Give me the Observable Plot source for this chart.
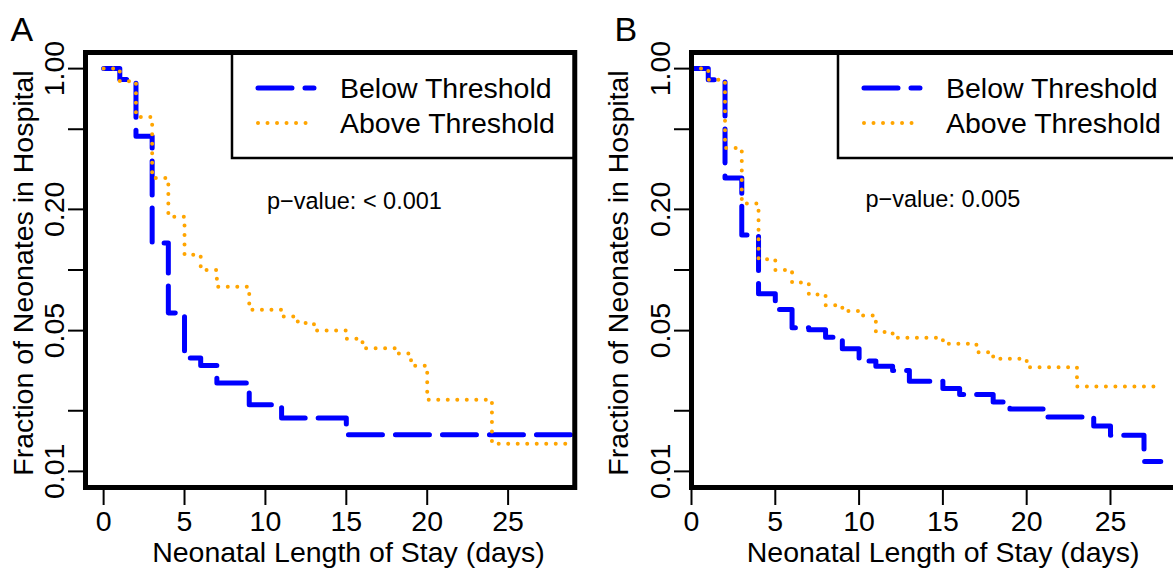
<!DOCTYPE html>
<html><head><meta charset="utf-8">
<script src="https://cdn.jsdelivr.net/npm/d3@7"></script>
<script src="https://cdn.jsdelivr.net/npm/@observablehq/plot@0.6"></script>
<style>
html,body{margin:0;padding:0;background:#fff;width:1173px;height:572px;overflow:hidden;}
#wrap{position:relative;width:1173px;height:572px;overflow:hidden;background:#fff;}
.panel{position:absolute;top:0;width:620px;height:572px;}
.panel svg{max-width:none !important;height:572px !important;}
</style></head>
<body><div id="wrap"><div class="panel" id="pa" style="left:0px"></div><div class="panel" id="pb" style="left:590px"></div></div>
<script>
// ---- shared labels / ticks ----
const xTicks = [0, 5, 10, 15, 20, 25];
const yTicks = [1, 0.5, 0.2, 0.1, 0.05, 0.02, 0.01];
const yLabelTicks = [1, 0.2, 0.05, 0.01];
const yTickLabels = ["1.00", "0.20", "0.05", "0.01"];
const seriesNames = ["Below Threshold", "Above Threshold"];
const xTitle = "Neonatal Length of Stay (days)";
const yTitle = "Fraction of Neonates in Hospital";

// ---- Panel A ----
const daysA_below = [0, 1, 2, 3, 4, 5, 6, 7, 9, 11, 15, 29];
const survA_below = [1, 0.882, 0.461, 0.136, 0.0612, 0.0366, 0.0336, 0.0275, 0.0214, 0.0184, 0.0152, 0.0152];
const daysA_above = [0, 1, 2, 3, 4, 5, 6, 7, 9, 11, 12, 13, 15, 16, 18, 19, 20, 24, 29];
const survA_above = [1, 0.865, 0.575, 0.286, 0.184, 0.119, 0.100, 0.0825, 0.0635, 0.0588, 0.0545, 0.0500, 0.0455, 0.0409, 0.0385, 0.0335, 0.0227, 0.0137, 0.0137];
const pTextA = "p\u2212value: < 0.001";

// ---- Panel B ----
const daysB_below = [0, 1, 2, 3, 4, 5, 6, 7, 8, 9, 10, 11, 12, 13, 15, 16, 18, 19, 21, 24, 25, 27, 28];
const survB_below = [1, 0.88, 0.286, 0.149, 0.0763, 0.0636, 0.0517, 0.0505, 0.0464, 0.0406, 0.0353, 0.0333, 0.0317, 0.0280, 0.0258, 0.0241, 0.0221, 0.0204, 0.0186, 0.0168, 0.0151, 0.0112, 0.0112];
const daysB_above = [0, 1, 2, 3, 4, 5, 6, 7, 8, 9, 10, 11, 12, 15, 17, 18, 20, 23, 28];
const survB_above = [1, 0.88, 0.403, 0.214, 0.113, 0.100, 0.0866, 0.0756, 0.0668, 0.0625, 0.0595, 0.0492, 0.0461, 0.0430, 0.0391, 0.0362, 0.0329, 0.0264, 0.0264];
const pTextB = "p\u2212value: 0.005";

const FONT = "'Liberation Sans', Arial, Helvetica, sans-serif";
const BLUE = "#0000ff", ORANGE = "#ffa500";
const blueStyle = {stroke: BLUE, strokeWidth: 5, strokeDasharray: "34 13", strokeLinecap: "round"};
const orangeStyle = {stroke: ORANGE, strokeWidth: 4, strokeDasharray: "0.01 9.5", strokeLinecap: "round"};

function legendMark(boxOffset) {
  return (index, scales, values, dim) => {
    const left = dim.marginLeft + boxOffset;
    const right = dim.width - dim.marginRight;
    const top = dim.marginTop;
    const g = d3.create("svg:g");
    g.append("rect").attr("x", left).attr("y", top).attr("width", right - left).attr("height", 106)
      .attr("fill", "white").attr("stroke", "black").attr("stroke-width", 2.5);
    const rows = [{name: seriesNames[0], st: blueStyle, ly: 36, ty: 45.7},
                  {name: seriesNames[1], st: orangeStyle, ly: 71, ty: 81}];
    for (const r of rows) {
      g.append("line").attr("x1", left + 26).attr("x2", left + 82).attr("y1", top + r.ly).attr("y2", top + r.ly)
        .attr("stroke", r.st.stroke).attr("stroke-width", r.st.strokeWidth)
        .attr("stroke-dasharray", r.st.strokeDasharray).attr("stroke-linecap", r.st.strokeLinecap);
      g.append("text").attr("x", left + 108).attr("y", top + r.ty).attr("font-size", 28.5)
        .attr("text-anchor", "start").attr("fill", "black").attr("font-family", FONT).text(r.name);
    }
    return g.node();
  };
}

function panel(cfg) {
  const below = cfg.daysBelow.map((d, i) => ({day: d, surv: cfg.survBelow[i]}));
  const above = cfg.daysAbove.map((d, i) => ({day: d, surv: cfg.survAbove[i]}));
  const plotW = (cfg.xDomain[1] - cfg.xDomain[0]) * cfg.pxPerDay;
  const width = cfg.marginLeft + plotW + cfg.marginRight;
  const frameCenter = cfg.marginLeft + plotW / 2;
  return Plot.plot({
    width, height: 572,
    marginLeft: cfg.marginLeft, marginRight: cfg.marginRight, marginTop: 52, marginBottom: 85,
    x: {domain: cfg.xDomain, axis: null},
    y: {type: "log", domain: [Math.pow(10, -2.08), Math.pow(10, 0.08)], axis: null},
    style: {fontFamily: FONT, fontSize: "28.5px", background: "white", color: "black", overflow: "visible", maxWidth: "none"},
    marks: [
      Plot.line(below, {x: "day", y: "surv", curve: "step-after", ...blueStyle}),
      Plot.line(above, {x: "day", y: "surv", curve: "step-after", ...orangeStyle}),
      Plot.axisX({ticks: xTicks, anchor: "bottom", tickSize: 18, tickPadding: 5, strokeWidth: 2, fontSize: 28.5, label: null, tickFormat: d => String(d)}),
      Plot.axisY({ticks: yTicks, anchor: "left", tickSize: 17, strokeWidth: 2, label: null, tickFormat: () => ""}),
      Plot.text(yLabelTicks, {y: d => d, text: (d, i) => yTickLabels[i], frameAnchor: "left", dx: cfg.yLabDx, rotate: -90, lineAnchor: "bottom", textAnchor: "middle", fontSize: 28.5, fill: "black"}),
      Plot.text([yTitle], {text: d => d, frameAnchor: "left", dx: cfg.yTitleDx, dy: 3, rotate: -90, lineAnchor: "bottom", textAnchor: "middle", fontSize: 28.5, fill: "black"}),
      Plot.text([xTitle], {text: d => d, frameAnchor: "bottom", dx: cfg.xTitleCenter - frameCenter, dy: 75, lineAnchor: "bottom", textAnchor: "middle", fontSize: 28.5, fill: "black"}),
      Plot.text([cfg.pText], {text: d => d, x: cfg.pX, y: cfg.pY, lineAnchor: "bottom", textAnchor: "middle", fontSize: 23.5, fill: "black"}),
      Plot.text([cfg.letter], {text: d => d, frameAnchor: "top-left", dx: cfg.letterDx, dy: -12, lineAnchor: "bottom", textAnchor: "start", fontSize: 34, fill: "black"}),
      legendMark(147),
      Plot.frame({stroke: "black", strokeWidth: 5})
    ]
  });
}

document.getElementById("pa").append(panel({
  daysBelow: daysA_below, survBelow: survA_below, daysAbove: daysA_above, survAbove: survA_above,
  xDomain: [-1.12, 29.12], pxPerDay: 16.18, marginLeft: 85, marginRight: 15.7,
  yLabDx: -21.5, yTitleDx: -52, xTitleCenter: 348, pText: pTextA, pX: 15.5, pY: 0.2,
  letter: "A", letterDx: -75
}));
document.getElementById("pb").append(panel({
  daysBelow: daysB_below, survBelow: survB_below, daysAbove: daysB_above, survAbove: survB_above,
  xDomain: [0, 29.5], pxPerDay: 16.76, marginLeft: 101, marginRight: 10,
  yLabDx: -21, yTitleDx: -63, xTitleCenter: 352.6, pText: pTextB, pX: 15, pY: 0.205,
  letter: "B", letterDx: -77
}));
</script>
</body></html>
